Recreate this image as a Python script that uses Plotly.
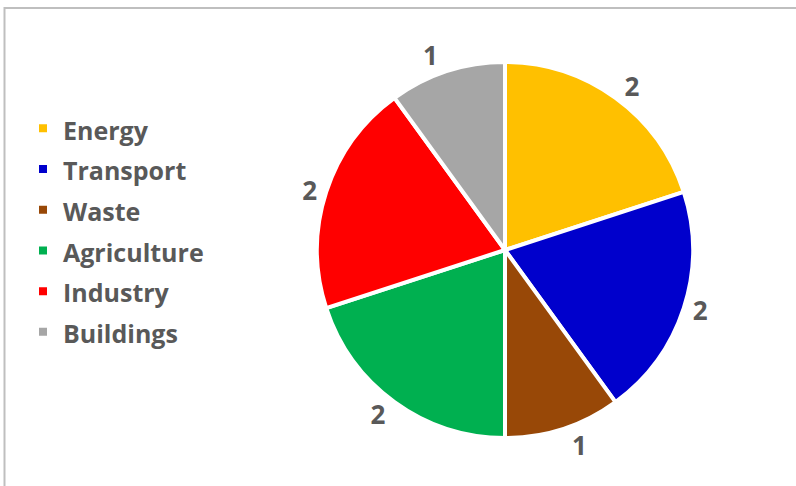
import plotly.graph_objects as go

categories = ["Energy", "Transport", "Waste", "Agriculture", "Industry", "Buildings"]
values = [2, 2, 1, 2, 2, 1]
colors = ["#FFC000", "#0000CC", "#984807", "#00B050", "#FF0000", "#A6A6A6"]

W, H = 796, 486
R = 188
legend_labels = ['<span style="font-size:25px">%s</span>' % c for c in categories]

fig = go.Figure(go.Pie(
    labels=legend_labels,
    values=values,
    sort=False,
    direction="clockwise",
    rotation=0,
    marker=dict(colors=colors, line=dict(color="white", width=4)),
    textinfo="value",
    textposition="outside",
    textfont=dict(family="Open Sans", size=26, color="#595959", weight="bold"),
    domain=dict(x=[(505 - R) / W, (505 + R) / W], y=[1 - (250 + R) / H, 1 - (250 - R) / H]),
    showlegend=True,
))

fig.update_layout(
    width=W, height=H,
    margin=dict(l=0, r=0, t=0, b=0),
    paper_bgcolor="white",
    plot_bgcolor="white",
    legend=dict(
        x=23 / W, y=1 - 103 / H, xanchor="left", yanchor="top",
        font=dict(family="Open Sans", size=29, color="#595959", weight="bold"),
        traceorder="normal",
        itemwidth=30,
    ),
    shapes=[dict(type="rect", xref="paper", yref="paper",
                 x0=4.5 / W, x1=1.2, y0=-0.2, y1=1 - 8 / H,
                 line=dict(color="#BFBFBF", width=2), fillcolor="rgba(0,0,0,0)")],
)

fig.write_html("out.html")
